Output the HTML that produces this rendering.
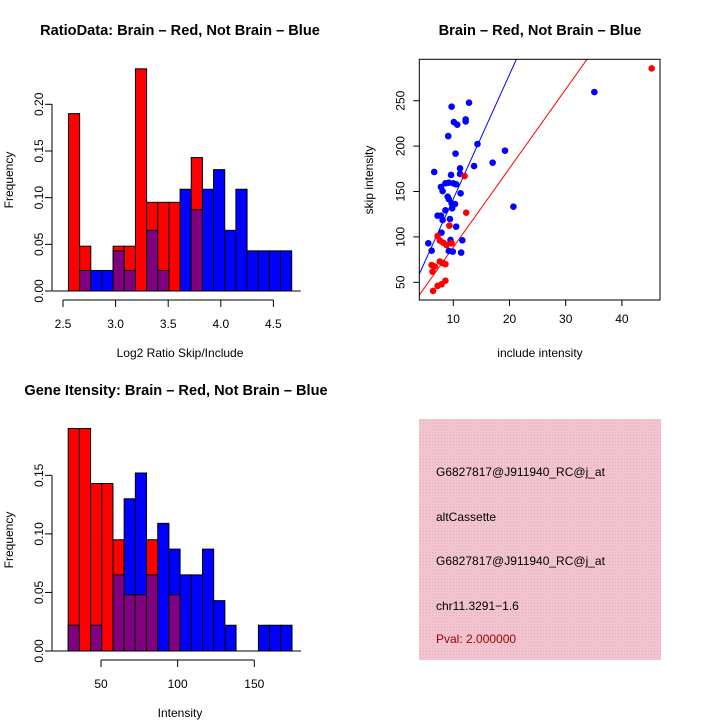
<!DOCTYPE html>
<html><head><meta charset="utf-8">
<style>
html,body{margin:0;padding:0;background:#fff;}
svg{display:block;font-family:"Liberation Sans",sans-serif;}
</style></head>
<body>
<svg id="chart" width="720" height="720" viewBox="0 0 720 720" xmlns="http://www.w3.org/2000/svg">
<defs>
<pattern id="hatch" width="3" height="3" patternUnits="userSpaceOnUse">
<rect width="3" height="3" fill="#f2c4cf"/>
<rect width="1" height="1" fill="#e8b0c0"/>
</pattern>
</defs>
<g id="p1"></g>
<g id="p2"></g>
<g id="p3"></g>
<g id="p4">
<rect x="419" y="419" width="242" height="241" fill="url(#hatch)"/>
<text x="436" y="476" font-size="12">G6827817@J911940_RC@j_at</text>
<text x="436" y="521" font-size="12">altCassette</text>
<text x="436" y="565" font-size="12">G6827817@J911940_RC@j_at</text>
<text x="436" y="610" font-size="12">chr11.3291−1.6</text>
<text x="436" y="643" font-size="12" fill="#a00000">Pval: 2.000000</text>
</g>
</svg>
<script>
// ---- Ratio histogram data ----
const ratioBinStart = 2.552;
const ratioBinWidth = 0.1061;
const ratioRed  = [0.190,0.048,0,0,0.048,0.048,0.238,0.095,0.095,0.095,0,0.143,0,0,0,0,0,0,0,0];
const ratioBlue = [0,0.022,0.022,0.022,0.043,0.022,0,0.065,0.022,0,0.109,0.087,0.109,0.130,0.065,0.109,0.043,0.043,0.043,0.043];
const ratioXTicks = [2.5,3.0,3.5,4.0,4.5];
const ratioXLabels = ["2.5","3.0","3.5","4.0","4.5"];
const ratioYTicks = [0,0.05,0.10,0.15,0.20];
const ratioYLabels = ["0.00","0.05","0.10","0.15","0.20"];
// ---- Intensity histogram data ----
const intBinStart = 28.6;
const intBinWidth = 7.3;
const intRed  = [0.190,0.190,0.143,0.143,0.095,0.048,0.048,0.095,0,0.048,0,0,0,0,0,0,0,0,0,0];
const intBlue = [0.022,0,0.022,0,0.065,0.130,0.152,0.065,0.109,0.087,0.065,0.065,0.087,0.043,0.022,0,0,0.022,0.022,0.022];
const intXTicks = [50,100,150];
const intXLabels = ["50","100","150"];
const intYTicks = [0,0.05,0.10,0.15];
const intYLabels = ["0.00","0.05","0.10","0.15"];
// ---- Scatter data ----
const blueX = [5.55,6.15,6.6,9.7,9.1,10.1,10.7,12.2,12.2,12.8,14.3,19.2,17.0,13.7,10.4,11.2,11.2,9.6,7.8,8.1,8.6,9.2,10.0,10.5,9.0,9.2,9.7,10.3,9.8,8.6,7.2,7.8,8.1,9.4,10.5,11.3,7.9,9.5,11.6,9.2,9.9,11.4,20.7,35.1];
const blueY = [93,84.8,171.5,243.4,211,226.5,223.6,229.4,227.2,247.8,202.3,195,181.7,178,191.7,175.5,169.3,168.2,155,150.5,159,159.7,159,157.9,144.3,141.7,137,136.2,131.5,129.3,123.4,123.4,118.6,119.7,111.3,148,104.7,96.6,96.2,84.5,83.8,82.7,133.3,259.5];
const redX = [45.3,12.0,12.3,9.3,7.2,7.6,8.2,8.8,9.7,6.15,6.7,6.3,7.6,8.2,8.6,6.4,7.2,7.9,8.6];
const redY = [285.6,167,126.7,112.4,101,96,93.7,91.1,92.9,69,67.3,61.7,72.8,71,70,40.5,46,47.8,51.8];
const fitBlue = [4.9,13.7]; // intercept, slope
const fitRed = [1.6,8.7];
const scXTicks = [10,20,30,40];
const scYTicks = [50,100,150,200,250];

const NS="http://www.w3.org/2000/svg";
function mk(parent,tag,attrs){const e=document.createElementNS(NS,tag);for(const k in attrs)e.setAttribute(k,attrs[k]);parent.appendChild(e);return e;}
function txt(parent,x,y,s,size,extra){const t=mk(parent,'text',Object.assign({x:x,y:y,'font-size':size,'text-anchor':'middle'},extra||{}));t.textContent=s;return t;}

function histogram(g,o){
  const sx=v=>o.x0px+(v-o.x0)*o.kx, sy=v=>o.y0px-v*o.ky;
  for(let i=0;i<o.red.length;i++){
    const r=o.red[i],b=o.blue[i];
    const xl=sx(o.start+i*o.w), xr=sx(o.start+(i+1)*o.w);
    const mx=Math.max(r,b), mn=Math.min(r,b);
    if(mx>0){
      const c=r>=b?'#ff0000':'#0000ff';
      const e=mk(g,'rect',{x:xl,y:sy(mx),width:xr-xl,height:sy(0)-sy(mx),fill:c,stroke:'#000','stroke-width':1});
      
      
    }
    if(mn>0){
      const e=mk(g,'rect',{x:xl,y:sy(mn),width:xr-xl,height:sy(0)-sy(mn),fill:'#800080',stroke:'#000','stroke-width':1});
      
      
    }
  }
  const bl=mk(g,'line',{x1:sx(o.start)-16,x2:sx(o.start+o.red.length*o.w)+9,y1:sy(0),y2:sy(0),stroke:'#000'});
  
  
  const ax=mk(g,'g',{});
  
  
  const ay0=sy(0)+9;
  mk(ax,'line',{x1:sx(o.xt[0]),x2:sx(o.xt[o.xt.length-1]),y1:ay0,y2:ay0,stroke:'#000'});
  o.xt.forEach((v,i)=>{mk(ax,'line',{x1:sx(v),x2:sx(v),y1:ay0,y2:ay0+7,stroke:'#000'});txt(ax,sx(v),ay0+28,o.xl[i],12);});
  const yax=mk(g,'g',{});
  
  
  const axx=52;
  mk(yax,'line',{x1:axx,x2:axx,y1:sy(0),y2:sy(o.yt[o.yt.length-1]),stroke:'#000'});
  o.yt.forEach((v,i)=>{mk(yax,'line',{x1:axx-7,x2:axx,y1:sy(v),y2:sy(v),stroke:'#000'});txt(yax,0,4,o.yl[i],12,{transform:`translate(${axx-13},${sy(v)}) rotate(-90)`});});
  const t=txt(g,o.titleX,o.titleY,o.title,14.6,{'font-weight':'bold'});
  
  
  const xl=txt(g,180,o.xlabY,o.xlab,12);
  
  
  const yl=txt(g,0,0,'Frequency',12,{transform:`translate(13,${o.ylabY}) rotate(-90)`});
  
  
}

histogram(document.getElementById('p1'),{red:ratioRed,blue:ratioBlue,start:ratioBinStart,w:ratioBinWidth,
  x0:2.5,x0px:63,kx:105.2,y0px:291,ky:933.5,xt:ratioXTicks,xl:ratioXLabels,yt:ratioYTicks,yl:ratioYLabels,
  title:'RatioData: Brain – Red, Not Brain – Blue',titleX:180,titleY:35,xlab:'Log2 Ratio Skip/Include',xlabY:357,ylabY:180});
histogram(document.getElementById('p3'),{red:intRed,blue:intBlue,start:intBinStart,w:intBinWidth,
  x0:50,x0px:101,kx:1.533,y0px:651,ky:1171,xt:intXTicks,xl:intXLabels,yt:intYTicks,yl:intYLabels,
  title:'Gene Itensity: Brain – Red, Not Brain – Blue',titleX:176,titleY:395,xlab:'Intensity',xlabY:717,ylabY:540});

(function(){
  const g=document.getElementById('p2');
  const L=419.3,R=660,T=59.3,B=300;
  const sx=v=>453.3+(v-10)*5.62, sy=v=>282.3-(v-50)*0.908;
  const vx=px=>10+(px-453.3)/5.62;
  const cp=mk(document.querySelector('defs'),'clipPath',{id:'scclip'});
  mk(cp,'rect',{x:L,y:T,width:R-L,height:B-T});
  [[fitBlue,'#0000ff','fit-line-not-brain'],[fitRed,'#ff0000','fit-line-brain']].forEach(([f,c,n])=>{
    const x1=vx(L),x2=vx(R);
    const e=mk(g,'line',{x1:L,x2:R,y1:sy(f[0]+f[1]*x1),y2:sy(f[0]+f[1]*x2),stroke:c,'stroke-width':1,'clip-path':'url(#scclip)'});
    
    
  });
  blueX.forEach((x,i)=>{const e=mk(g,'circle',{cx:sx(x),cy:sy(blueY[i]),r:3.3,fill:'#0000ff'});
    
    });
  redX.forEach((x,i)=>{const e=mk(g,'circle',{cx:sx(x),cy:sy(redY[i]),r:3.3,fill:'#ff0000'});
    
    });
  const box=mk(g,'rect',{x:L,y:T,width:R-L,height:B-T,fill:'none',stroke:'#000'});
  
  
  scXTicks.forEach(v=>{mk(g,'line',{x1:sx(v),x2:sx(v),y1:B,y2:B+6,stroke:'#000'});txt(g,sx(v),B+23,String(v),12);});
  scYTicks.forEach(v=>{mk(g,'line',{x1:L-6,x2:L,y1:sy(v),y2:sy(v),stroke:'#000'});txt(g,0,4,String(v),12,{transform:`translate(${L-19},${sy(v)}) rotate(-90)`});});
  const t=txt(g,540,35,'Brain – Red, Not Brain – Blue',14.6,{'font-weight':'bold'});
  
  
  const xl=txt(g,540,357,'include intensity',12);
  
  
  const yl=txt(g,0,0,'skip intensity',12,{transform:'translate(373,180) rotate(-90)'});
  
  
})();
</script>
</body></html>
